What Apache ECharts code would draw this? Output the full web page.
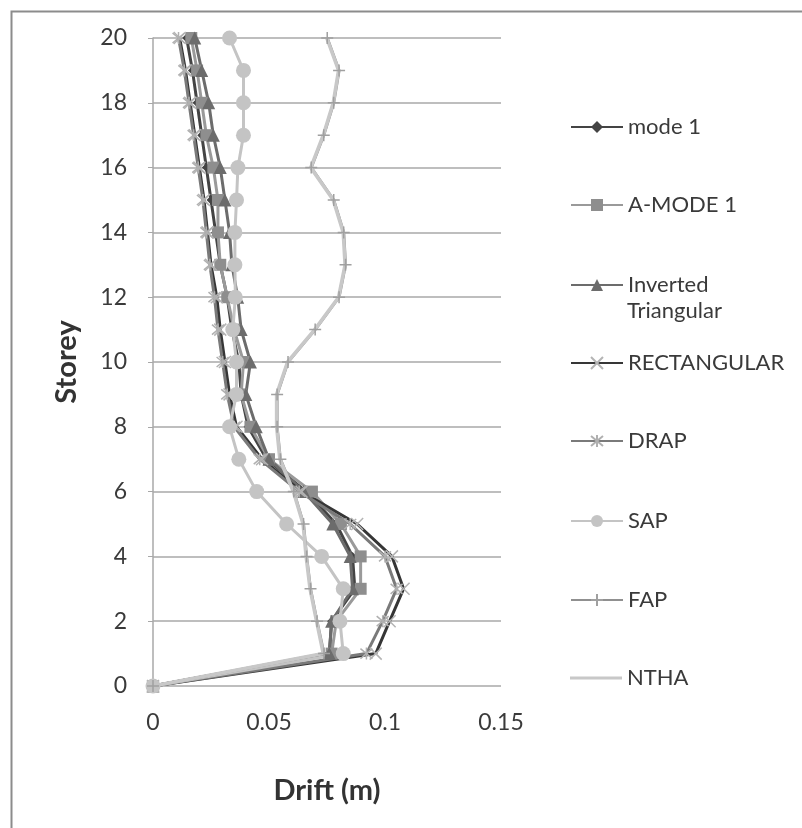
<!DOCTYPE html>
<html>
<head>
<meta charset="utf-8">
<script src="https://cdn.jsdelivr.net/npm/echarts@6/dist/echarts.min.js"></script>
<style>
  html, body { margin: 0; padding: 0; background: #fff; }
  #chart { width: 802px; height: 828px; }
</style>
</head>
<body>
<div id="chart"></div>
<script>
// storey levels 0..20
const storeys = [0, 1, 2, 3, 4, 5, 6, 7, 8, 9, 10, 11, 12, 13, 14, 15, 16, 17, 18, 19, 20]

// drift (m) per storey
const mode1       = [0, 0.076, 0.077, 0.087, 0.086, 0.079, 0.066, 0.049, 0.041, 0.038, 0.037, 0.034, 0.032, 0.029, 0.027, 0.025, 0.023, 0.021, 0.019, 0.017, 0.0145]
const aMode1      = [0, 0.077, 0.079, 0.0895, 0.0895, 0.081, 0.0685, 0.050, 0.042, 0.038, 0.039, 0.035, 0.032, 0.029, 0.028, 0.028, 0.026, 0.023, 0.021, 0.019, 0.0165]
const invTri      = [0, 0.076, 0.077, 0.086, 0.085, 0.0775, 0.065, 0.050, 0.0445, 0.040, 0.042, 0.038, 0.0365, 0.034, 0.033, 0.031, 0.029, 0.026, 0.024, 0.021, 0.018]
const rectangular = [0, 0.096, 0.102, 0.108, 0.103, 0.088, 0.064, 0.047, 0.036, 0.033, 0.031, 0.029, 0.0275, 0.025, 0.0235, 0.022, 0.020, 0.018, 0.016, 0.014, 0.0115]
const drap        = [0, 0.092, 0.099, 0.105, 0.100, 0.085, 0.063, 0.046, 0.035, 0.032, 0.030, 0.028, 0.0265, 0.0245, 0.023, 0.0215, 0.0195, 0.0175, 0.0155, 0.0135, 0.011]
const sap         = [0, 0.082, 0.0806, 0.082, 0.0727, 0.0576, 0.0447, 0.037, 0.033, 0.036, 0.036, 0.0344, 0.0355, 0.0353, 0.0353, 0.036, 0.0366, 0.039, 0.039, 0.039, 0.033]
const fap         = [0, 0.0737, 0.0707, 0.0679, 0.0662, 0.0649, 0.0607, 0.0549, 0.0535, 0.0535, 0.0582, 0.0699, 0.0802, 0.083, 0.0822, 0.0779, 0.0682, 0.0736, 0.0779, 0.0802, 0.0751]
const ntha        = [0, 0.0734, 0.0705, 0.0677, 0.066, 0.0647, 0.0605, 0.0547, 0.0533, 0.0533, 0.058, 0.0697, 0.080, 0.0828, 0.082, 0.0777, 0.068, 0.0734, 0.0777, 0.080, 0.0749]

const seriesNames = ['mode 1', 'A-MODE 1', 'Inverted', 'RECTANGULAR', 'DRAP', 'SAP', 'FAP', 'NTHA']

const crossPath = 'path://M0,0L10,10M10,0L0,10'
const starPath = 'path://M0,0L10,10M10,0L0,10M5,-1L5,11'
const plusPath = 'path://M5,0L5,10M0,5L10,5'

const font = 'Lato, "Open Sans", sans-serif'

function mk(name, values, lineColor, symbol, size, markColor, stroked, width) {
  return {
    name: name,
    type: 'line',
    data: storeys.map((s, i) => [values[i], s]),
    symbol: symbol,
    symbolSize: size,
    showSymbol: symbol !== 'none',
    lineStyle: { color: lineColor, width: width || 3 },
    itemStyle: stroked
      ? { color: markColor, borderColor: markColor, borderWidth: 1.5 }
      : { color: markColor, borderWidth: 0 },
    emphasis: { disabled: true },
    animation: false
  }
}

const series = [
  mk(seriesNames[0], mode1, '#444444', 'diamond', 9, '#444444', false),
  mk(seriesNames[1], aMode1, '#9a9a9a', 'rect', 12, '#8e8e8e', false),
  mk(seriesNames[2], invTri, '#6c6c6c', 'triangle', 13, '#6c6c6c', false),
  mk(seriesNames[3], rectangular, '#363636', crossPath, 12, '#b4b4b4', true),
  mk(seriesNames[4], drap, '#7a7a7a', starPath, 12, '#b0b0b0', true),
  mk(seriesNames[5], sap, '#c4c4c4', 'circle', 15, '#c4c4c4', false),
  mk(seriesNames[6], fap, '#909090', plusPath, 12, '#a0a0a0', true),
  mk(seriesNames[7], ntha, '#c8c8c8', 'none', 0, '#c8c8c8', false, 3.6)
]

const legendTops = [111, 189, 269, 347, 425, 505, 584, 662]
const legends = seriesNames.map((n, i) => {
  const isPlain = n === 'NTHA'
  return {
    data: isPlain ? [{ name: n, icon: 'path://M0,0L52,0L52,3L0,3Z' }] : [n],
    left: 565,
    top: legendTops[i],
    orient: 'vertical',
    itemWidth: 52,
    itemHeight: isPlain ? 3 : 15,
    itemGap: 0,
    selectedMode: false,
    textStyle: { fontFamily: font, fontSize: 22, color: '#3a3a3a' }
  }
})

const chart = echarts.init(document.getElementById('chart'), null, { renderer: 'canvas' })
chart.setOption({
  backgroundColor: '#ffffff',
  animation: false,
  legend: legends,
  grid: { left: 153, right: 301, top: 38, bottom: 142, containLabel: false },
  xAxis: {
    type: 'value',
    min: 0, max: 0.15, interval: 0.05,
    name: 'Drift (m)',
    nameLocation: 'middle',
    nameGap: 90,
    nameTextStyle: { fontFamily: font, fontSize: 29, fontWeight: 'bold', color: '#333333' },
    axisLine: { show: false },
    axisTick: { show: false },
    splitLine: { show: false },
    axisLabel: { fontFamily: font, fontSize: 23, color: '#3a3a3a', margin: 25 }
  },
  yAxis: {
    type: 'value',
    min: 0, max: 20, interval: 2,
    name: 'Storey',
    nameLocation: 'middle',
    nameGap: 72,
    nameRotate: 90,
    nameTextStyle: { fontFamily: font, fontSize: 29, fontWeight: 'bold', color: '#333333' },
    axisLine: { show: true, lineStyle: { color: '#a8a8a8', width: 1.5 } },
    axisTick: { show: true, length: 5, lineStyle: { color: '#a8a8a8' } },
    splitLine: { show: true, lineStyle: { color: '#a8a8a8', width: 1.5 } },
    axisLabel: { fontFamily: font, fontSize: 23, color: '#3a3a3a', margin: 26 }
  },
  graphic: [
    { type: 'rect', left: 9, top: 9, shape: { width: 810, height: 840 },
      style: { fill: 'none', stroke: '#8c8c8c', lineWidth: 2 }, silent: true },
    { type: 'text', left: 627, top: 300,
      style: { text: 'Triangular', font: '22px ' + font, fill: '#3a3a3a' }, silent: true }
  ],
  series: series
})
</script>
</body>
</html>
